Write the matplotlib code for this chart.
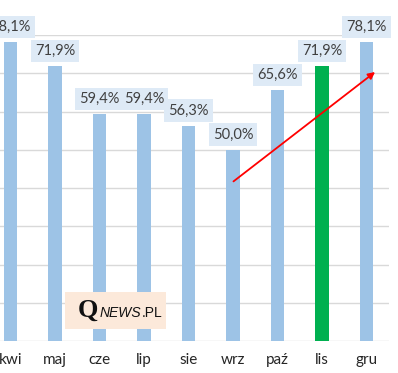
import matplotlib.pyplot as plt

months = ['kwi', 'maj', 'cze', 'lip', 'sie', 'wrz', 'paź', 'lis', 'gru']
values = [78.1, 71.9, 59.4, 59.4, 56.3, 50.0, 65.6, 71.9, 78.1]
highlight = 'lis'

blue = '#9DC3E6'
green = '#00B050'
colors = [green if m == highlight else blue for m in months]

fig = plt.figure(figsize=(3.98, 3.73), dpi=100)
ax = fig.add_axes([0, 0.0858, 0.977, 0.82])

x = range(len(months))
ax.bar(x, values, width=0.31, color=colors, zorder=2)

for i, v in enumerate(values):
    ax.annotate(f'{v:.1f}%'.replace('.', ','), (i, v), xytext=(0, 11), textcoords='offset points',
                ha='center', va='center', fontsize=10.5, family='Lato', color='#404040',
                bbox=dict(boxstyle='square,pad=0.28', fc='#DEEAF6', ec='none'), zorder=3)

ax.set_ylim(0, 80)
ax.set_xlim(-0.236, 8.5)
ax.set_yticks(range(0, 81, 10))
ax.yaxis.grid(True, color='#D9D9D9', linewidth=1, zorder=0)
ax.set_xticks(list(x))
ax.set_xticklabels(months, family='Lato', fontsize=11, color='#262626')
ax.tick_params(axis='x', length=0, pad=9)
ax.tick_params(axis='y', length=0, labelleft=False)
for s in ax.spines.values():
    s.set_visible(False)

# trend arrow
ax.annotate('', xy=(8.24, 70.8), xytext=(4.96, 41.3),
            arrowprops=dict(arrowstyle='-|>', color='#FF0000', lw=1.3, mutation_scale=10), zorder=4)

# watermark
fig.patches.append(plt.Rectangle((65 / 398, 1 - 329 / 373), 101 / 398, 37 / 373,
                                 transform=fig.transFigure, fc='#FCE9DA', ec='none', zorder=5))
q = fig.text(78 / 398, 1 - 317 / 373, 'Q', family='Liberation Serif', fontsize=19, fontweight='bold',
             va='baseline', ha='left', color='#111111', zorder=6)
n = fig.text(0, 0, 'NEWS', family='Liberation Sans', style='italic', fontsize=10,
             va='baseline', ha='left', color='#111111', zorder=6)
p = fig.text(0, 0, '.PL', family='Liberation Sans', fontsize=10,
             va='baseline', ha='left', color='#111111', zorder=6)
fig.canvas.draw()
r = fig.canvas.get_renderer()
bq = q.get_window_extent(r)
n.set_position(((bq.x1 + 1) / fig.bbox.width, 1 - 317 / 373))
bn = n.get_window_extent(r)
p.set_position(((bn.x1 + 1) / fig.bbox.width, 1 - 317 / 373))

fig.savefig('out.png', dpi=100)
